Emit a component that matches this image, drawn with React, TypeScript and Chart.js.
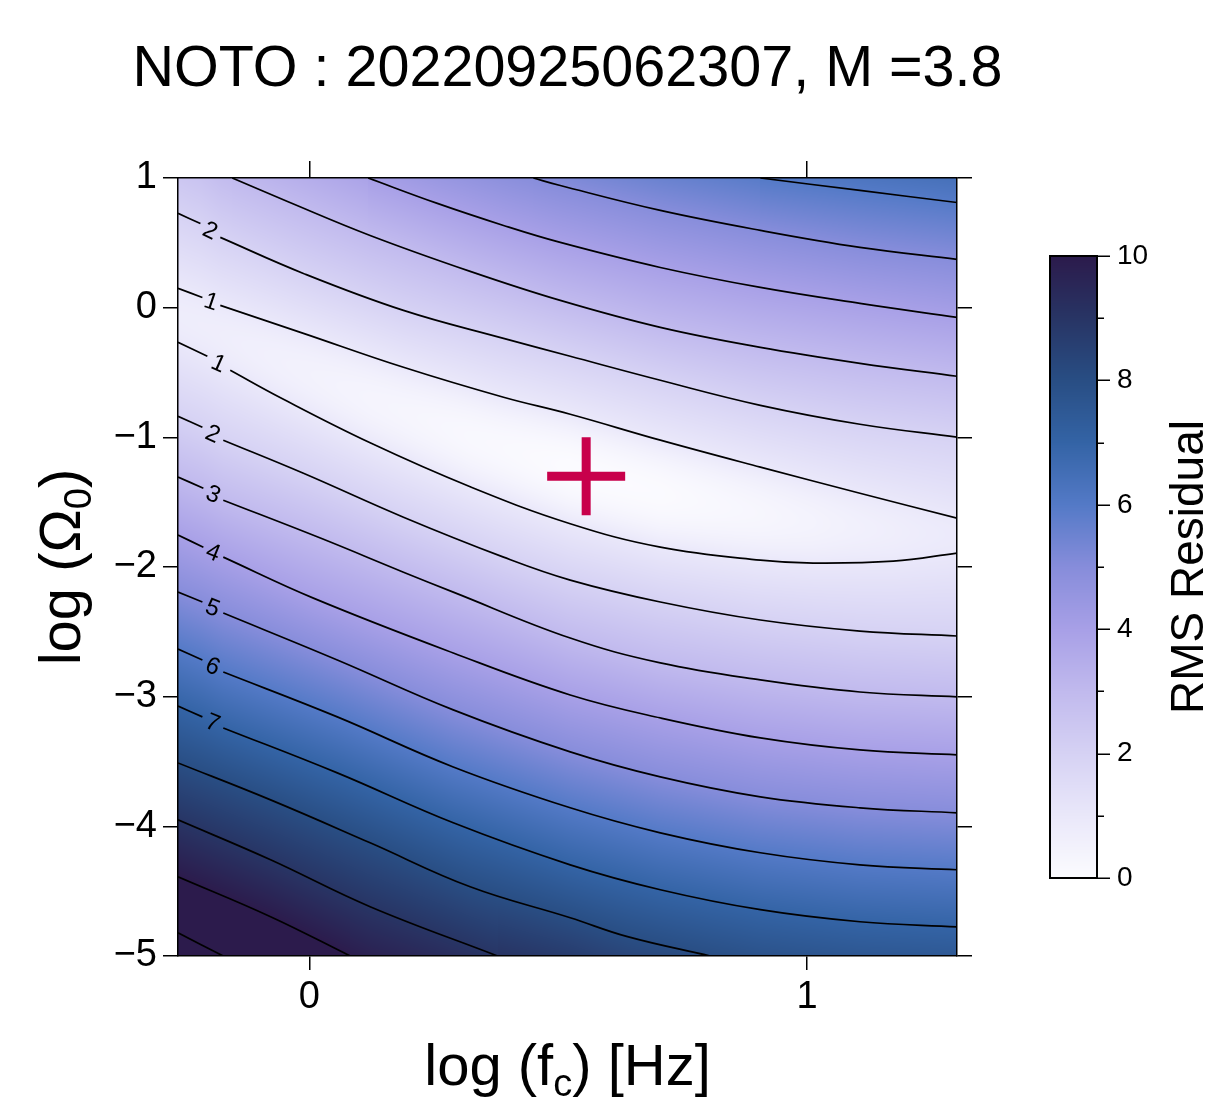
import React, { useEffect, useRef } from 'react';
import { Chart, registerables } from 'chart.js';

Chart.register(...registerables);

// ---------------- data ----------------
const chartTitle = 'NOTO : 20220925062307, M =3.8';
const xRange = [-0.264, 1.301];
const yRange = [-5, 1];
const xTicks = [0, 1];
const yTicks = [-5, -4, -3, -2, -1, 0, 1];
const cbRange = [0, 10];
const cbTicks = [0, 2, 4, 6, 8, 10];
const cbMinorTicks = [1, 3, 5, 7, 9];
const cbTitle = 'RMS Residual';
const bestFit = [{ x: 0.556, y: -1.3 }];

// contour lines: [log fc, log Omega0]
const contour6a = [[0.906, 1.0], [1.106, 0.904], [1.301, 0.811]];
const contour5a = [[0.45, 1.0], [0.504, 0.942], [0.705, 0.75], [0.906, 0.596], [1.106, 0.465], [1.301, 0.372]];
const contour4a = [[0.118, 1.0], [0.257, 0.804], [0.39, 0.634], [0.504, 0.503], [0.705, 0.31], [0.906, 0.156], [1.106, 0.033], [1.301, -0.075]];
const contour3a = [[-0.155, 1.0], [-0.044, 0.819], [0.122, 0.557], [0.323, 0.28], [0.504, 0.056], [0.705, -0.152], [0.906, -0.306], [1.106, -0.429], [1.301, -0.529]];
const contour2a = [[-0.264, 0.727], [-0.219, 0.649], [-0.179, 0.542], [-0.012, 0.264], [0.189, -0.021], [0.39, -0.237], [0.524, -0.375], [0.705, -0.56], [0.906, -0.753], [1.106, -0.899], [1.301, -0.999]];
const contour1a = [[-0.264, 0.149], [-0.215, 0.079], [-0.179, 0.018], [-0.012, -0.198], [0.189, -0.46], [0.39, -0.691], [0.524, -0.822], [0.705, -1.022], [0.906, -1.23], [1.106, -1.431], [1.301, -1.623]];
const contour1b = [[-0.264, -0.267], [-0.205, -0.375], [-0.159, -0.483], [-0.058, -0.695], [0.122, -1.042], [0.323, -1.381], [0.524, -1.666], [0.705, -1.847], [0.906, -1.947], [1.012, -1.97], [1.173, -1.955], [1.301, -1.893]];
const contour2b = [[-0.264, -0.837], [-0.215, -0.922], [-0.173, -1.022], [-0.012, -1.277], [0.189, -1.616], [0.39, -1.924], [0.524, -2.101], [0.705, -2.27], [0.906, -2.409], [1.106, -2.494], [1.301, -2.532]];
const contour3b = [[-0.264, -1.307], [-0.213, -1.392], [-0.173, -1.485], [0.022, -1.777], [0.189, -2.04], [0.289, -2.194], [0.524, -2.548], [0.705, -2.74], [0.906, -2.871], [1.106, -2.964], [1.301, -3.002]];
const contour4b = [[-0.264, -1.754], [-0.213, -1.847], [-0.173, -1.924], [0.008, -2.24], [0.289, -2.663], [0.524, -2.987], [0.705, -3.164], [0.906, -3.318], [1.106, -3.411], [1.301, -3.449]];
const contour5b = [[-0.264, -2.193], [-0.215, -2.27], [-0.173, -2.355], [0.056, -2.717], [0.289, -3.102], [0.524, -3.426], [0.705, -3.619], [0.906, -3.773], [1.106, -3.857], [1.301, -3.896]];
const contour6b = [[-0.264, -2.632], [-0.215, -2.717], [-0.173, -2.81], [0.056, -3.156], [0.289, -3.542], [0.524, -3.857], [0.705, -4.05], [0.906, -4.204], [1.106, -4.297], [1.301, -4.335]];
const contour7 = [[-0.264, -3.072], [-0.215, -3.156], [-0.173, -3.241], [0.056, -3.588], [0.289, -3.973], [0.524, -4.297], [0.705, -4.489], [0.906, -4.643], [1.106, -4.736], [1.301, -4.775]];
const contour8 = [[-0.264, -3.511], [-0.078, -3.796], [0.122, -4.127], [0.323, -4.466], [0.524, -4.705], [0.639, -4.851], [0.805, -5.0]];
const contour9 = [[-0.264, -3.95], [-0.078, -4.258], [0.122, -4.62], [0.378, -5.0]];
const contour10 = [[-0.264, -4.389], [-0.078, -4.697], [0.082, -5.0]];
const contour11 = [[-0.264, -4.821], [-0.173, -5.0]];

const contourLevels = [6, 5, 4, 3, 2, 1, 1, 2, 3, 4, 5, 6, 7, 8, 9, 10, 11];
const contourPoints = [contour6a, contour5a, contour4a, contour3a, contour2a, contour1a, contour1b, contour2b, contour3b, contour4b, contour5b, contour6b, contour7, contour8, contour9, contour10, contour11];
// index after which the label gap sits (-1 = no label)
const contourLabelGap = [-1, -1, -1, -1, 1, 1, 1, 1, 1, 1, 1, 1, 1, -1, -1, -1, -1];

const contours = contourPoints.map((pts, i) => ({ level: contourLevels[i], pts, gap: contourLabelGap[i] }));

// ---------------- styles ----------------
const W = 1205;
const H = 1102;
const FONT = '"Liberation Sans", Arial, Helvetica, sans-serif';
const cmapStops = [
  [252, 252, 255], [234, 232, 250], [214, 210, 244], [193, 186, 238], [168, 160, 231],
  [135, 141, 219], [84, 122, 199], [52, 100, 166], [41, 78, 132], [40, 53, 101], [44, 27, 76],
];
const VALLEY_K = 1 / (56 * 56);

function colorAt(v: number): number[] {
  const t = Math.max(cbRange[0], Math.min(cbRange[1], v));
  const i = Math.min(cmapStops.length - 2, Math.floor(t));
  const f = t - i;
  const a = cmapStops[i], b = cmapStops[i + 1];
  return [a[0] + (b[0] - a[0]) * f, a[1] + (b[1] - a[1]) * f, a[2] + (b[2] - a[2]) * f];
}

type Cross = { y: number; v: number };
function fieldValue(cr: Cross[], py: number): number {
  const n = cr.length;
  if (n === 0) return 0;
  if (n === 1) return cr[0].v;
  if (py <= cr[0].y) {
    const a = cr[0], b = cr[1];
    return a.v + ((b.v - a.v) / (b.y - a.y)) * (py - a.y);
  }
  if (py >= cr[n - 1].y) {
    const a = cr[n - 2], b = cr[n - 1];
    return b.v + ((b.v - a.v) / (b.y - a.y)) * (py - b.y);
  }
  for (let k = 0; k < n - 1; k++) {
    const a = cr[k], b = cr[k + 1];
    if (py >= a.y && py <= b.y) {
      if (a.v === b.v) {
        const h = (b.y - a.y) / 2;
        const dd = py - (a.y + b.y) / 2;
        return Math.max(0, a.v - VALLEY_K * (h * h - dd * dd));
      }
      return a.v + ((b.v - a.v) * (py - a.y)) / (b.y - a.y);
    }
  }
  return 0;
}

const fieldPlugin = {
  id: 'field',
  beforeDatasetsDraw(chart: any) {
    const { ctx, chartArea: area, scales } = chart;
    const sx = scales.x, sy = scales.y;
    const L = Math.round(area.left), T = Math.round(area.top);
    const w = Math.round(area.right) - L, h = Math.round(area.bottom) - T;
    const lines = contours.map((c) => ({
      v: c.level,
      p: c.pts.map(([x, y]) => [sx.getPixelForValue(x), sy.getPixelForValue(y)]),
    }));
    const off = document.createElement('canvas');
    off.width = w;
    off.height = h;
    const octx = off.getContext('2d')!;
    const img = octx.createImageData(w, h);
    const d = img.data;
    for (let i = 0; i < w; i++) {
      const px = L + i + 0.5;
      const cr: Cross[] = [];
      for (const ln of lines) {
        const p = ln.p;
        if (px < p[0][0] || px > p[p.length - 1][0]) continue;
        for (let k = 0; k < p.length - 1; k++) {
          if (px >= p[k][0] && px <= p[k + 1][0]) {
            const dx = p[k + 1][0] - p[k][0] || 1;
            const t = (px - p[k][0]) / dx;
            cr.push({ y: p[k][1] + t * (p[k + 1][1] - p[k][1]), v: ln.v });
            break;
          }
        }
      }
      cr.sort((a, b) => a.y - b.y);
      for (let j = 0; j < h; j++) {
        const v = fieldValue(cr, T + j + 0.5);
        const c = colorAt(v);
        const o = (j * w + i) * 4;
        d[o] = c[0];
        d[o + 1] = c[1];
        d[o + 2] = c[2];
        d[o + 3] = 255;
      }
    }
    octx.putImageData(img, 0, 0);
    ctx.save();
    ctx.drawImage(off, L, T);
    ctx.restore();
  },
  afterDatasetsDraw(chart: any) {
    const { ctx, scales } = chart;
    const sx = scales.x, sy = scales.y;
    ctx.save();
    ctx.fillStyle = '#000';
    ctx.font = `24px ${FONT}`;
    ctx.textAlign = 'center';
    ctx.textBaseline = 'middle';
    contours.forEach((c) => {
      if (c.gap < 0) return;
      const p0 = c.pts[0], p1 = c.pts[c.gap], p2 = c.pts[c.gap + 1];
      const x1 = sx.getPixelForValue(p1[0]), y1 = sy.getPixelForValue(p1[1]);
      const x2 = sx.getPixelForValue(p2[0]), y2 = sy.getPixelForValue(p2[1]);
      const x0 = sx.getPixelForValue(p0[0]), y0 = sy.getPixelForValue(p0[1]);
      const ang = Math.atan2(y2 - y0, x2 - x0) * 0.85;
      ctx.save();
      ctx.translate((x1 + x2) / 2, (y1 + y2) / 2);
      ctx.rotate(ang);
      ctx.fillText(String(c.level), 0, 1);
      ctx.restore();
    });
    ctx.restore();
  },
};

function drawParts(ctx: CanvasRenderingContext2D, parts: { t: string; sub?: boolean }[], size: number) {
  const subSize = Math.round(size * 0.65);
  const shift = size * 0.19;
  let total = 0;
  const widths = parts.map((p) => {
    ctx.font = `${p.sub ? subSize : size}px ${FONT}`;
    const m = ctx.measureText(p.t).width;
    total += m;
    return m;
  });
  let x = -total / 2;
  parts.forEach((p, i) => {
    ctx.font = `${p.sub ? subSize : size}px ${FONT}`;
    ctx.fillText(p.t, x, p.sub ? shift : 0);
    x += widths[i];
  });
}

const decorPlugin = {
  id: 'decor',
  afterDraw(chart: any) {
    const { ctx, chartArea: area } = chart;
    ctx.save();
    ctx.fillStyle = '#000';
    ctx.textBaseline = 'alphabetic';
    ctx.textAlign = 'left';
    const cx = (area.left + area.right) / 2;

    // title
    ctx.save();
    ctx.translate(cx, 86);
    drawParts(ctx, [{ t: chartTitle }], 57.5);
    ctx.restore();

    // x title
    ctx.save();
    ctx.translate(cx, 1085);
    drawParts(ctx, [{ t: 'log (f' }, { t: 'c', sub: true }, { t: ') [Hz]' }], 58);
    ctx.restore();

    // y title
    ctx.save();
    ctx.translate(80, (area.top + area.bottom) / 2);
    ctx.rotate(-Math.PI / 2);
    drawParts(ctx, [{ t: 'log (Ω' }, { t: '0', sub: true }, { t: ')' }], 58);
    ctx.restore();

    // colorbar
    const cbL = 1050, cbR = 1097, cbT = 256, cbB = 878;
    const vToY = (v: number) => cbB - ((v - cbRange[0]) / (cbRange[1] - cbRange[0])) * (cbB - cbT);
    for (let y = cbT; y < cbB; y++) {
      const v = cbRange[0] + ((cbB - (y + 0.5)) / (cbB - cbT)) * (cbRange[1] - cbRange[0]);
      const c = colorAt(v);
      ctx.fillStyle = `rgb(${c[0] | 0},${c[1] | 0},${c[2] | 0})`;
      ctx.fillRect(cbL, y, cbR - cbL, 1);
    }
    ctx.strokeStyle = '#000';
    ctx.lineWidth = 2;
    ctx.strokeRect(cbL, cbT, cbR - cbL, cbB - cbT);
    ctx.lineWidth = 1.5;
    ctx.beginPath();
    cbTicks.forEach((v) => {
      const y = Math.round(vToY(v)) + 0.25;
      ctx.moveTo(cbR, y);
      ctx.lineTo(cbR + 13, y);
    });
    cbMinorTicks.forEach((v) => {
      const y = Math.round(vToY(v)) + 0.25;
      ctx.moveTo(cbR, y);
      ctx.lineTo(cbR + 7, y);
    });
    ctx.stroke();
    ctx.fillStyle = '#000';
    ctx.font = `28px ${FONT}`;
    ctx.textBaseline = 'middle';
    ctx.textAlign = 'left';
    cbTicks.forEach((v) => ctx.fillText(String(v), 1117, vToY(v)));

    // colorbar title
    ctx.save();
    ctx.textBaseline = 'alphabetic';
    ctx.translate(1203, (cbT + cbB) / 2);
    ctx.rotate(-Math.PI / 2);
    drawParts(ctx, [{ t: cbTitle }], 46);
    ctx.restore();

    ctx.restore();
  },
};

const fmt = (v: number) => (v < 0 ? '\u2212' + Math.abs(v) : String(v));

function axis(position: string, ticks: number[], range: number[], opts: any) {
  return {
    type: 'linear',
    position,
    min: range[0],
    max: range[1],
    afterBuildTicks: (s: any) => {
      s.ticks = ticks.map((v) => ({ value: v }));
    },
    afterFit: opts.fit,
    grid: { drawOnChartArea: false, drawTicks: true, tickLength: opts.tickLength, color: '#000', lineWidth: 1.5, z: 2 },
    border: { display: true, color: '#000', width: 1.5, z: 2 },
    ticks: {
      display: opts.labels,
      autoSkip: false,
      maxRotation: 0,
      minRotation: 0,
      padding: opts.padding || 0,
      color: '#000',
      font: { family: FONT, size: 38 },
      callback: (v: number) => fmt(v),
      z: 2,
    },
  };
}

export default function App() {
  const ref = useRef<HTMLCanvasElement>(null);
  useEffect(() => {
    document.body.style.margin = '0';
    const canvas = ref.current!;
    const datasets: any[] = [
      {
        label: 'best fit',
        data: bestFit,
        showLine: false,
        pointStyle: 'cross',
        pointRadius: 39,
        pointHoverRadius: 39,
        pointBorderWidth: 9,
        pointBorderColor: '#c8004b',
        borderColor: '#c8004b',
        borderWidth: 9,
        order: 0,
      },
    ];
    const lineDs = (pts: number[][]) => ({
      data: pts.map(([x, y]) => ({ x, y })),
      showLine: true,
      pointRadius: 0,
      pointHoverRadius: 0,
      borderColor: '#000',
      borderWidth: 1.7,
      tension: 0.4,
      fill: false,
      order: 1,
    });
    contours.forEach((c) => {
      if (c.gap >= 0) {
        datasets.push(lineDs(c.pts.slice(0, c.gap + 1)));
        datasets.push(lineDs(c.pts.slice(c.gap + 1)));
      } else {
        datasets.push(lineDs(c.pts));
      }
    });

    const chart = new Chart(canvas, {
      type: 'scatter',
      data: { datasets },
      plugins: [fieldPlugin, decorPlugin],
      options: {
        responsive: false,
        maintainAspectRatio: false,
        devicePixelRatio: 1,
        animation: false,
        events: [],
        layout: { padding: { left: 0, top: 161, right: 233, bottom: 0 } },
        plugins: { legend: { display: false }, tooltip: { enabled: false }, title: { display: false } },
        scales: {
          x: axis('bottom', xTicks, xRange, { labels: true, tickLength: 14, padding: 5, fit: (s: any) => { s.height = 146; } }),
          x2: axis('top', xTicks, xRange, { labels: false, tickLength: 17, fit: (s: any) => { s.height = 17; } }),
          y: axis('left', yTicks, yRange, { labels: true, tickLength: 15, padding: 6, fit: (s: any) => { s.width = 178; } }),
          y2: axis('right', yTicks, yRange, { labels: false, tickLength: 15, fit: (s: any) => { s.width = 15; } }),
        },
      } as any,
    } as any);
    return () => chart.destroy();
  }, []);
  return (
    <div style={{ width: W, height: H, overflow: 'hidden' }}>
      <canvas ref={ref} width={W} height={H} style={{ display: 'block', width: W, height: H }} />
    </div>
  );
}
